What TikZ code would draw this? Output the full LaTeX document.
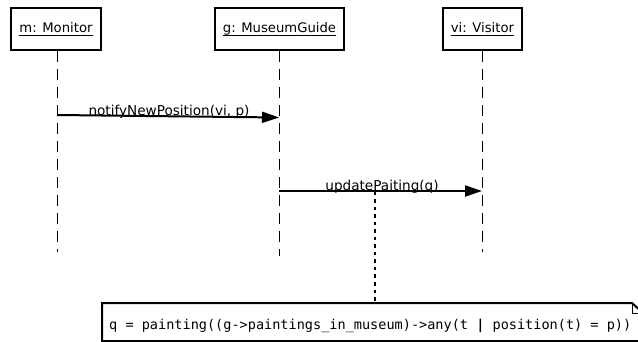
\documentclass[tikz,border=0pt]{standalone}
\usepackage{fontspec}
\setmainfont{DejaVu Sans}
\setmonofont{DejaVu Sans Mono}
\usetikzlibrary{arrows.meta}
\newcommand\objname[1]{\setbox0\hbox{#1}\rlap{\rule[-3.2pt]{\wd0}{0.9pt}}\box0}
\begin{document}
\begin{tikzpicture}[x=1pt,y=-1pt,
  objbox/.style={draw,line width=2pt,minimum height=42pt,inner xsep=8pt,
    font=\fontsize{13.2}{15}\selectfont},
  lifeline/.style={line width=1pt,dash pattern=on 11pt off 7pt},
  msg/.style={line width=2pt,-{Triangle[length=17pt,width=11pt]}},
  msglabel/.style={font=\fontsize{13.6}{15}\selectfont,inner sep=0pt,anchor=base},
  notebox/.style={line width=2pt},
  noteline/.style={line width=2.2pt,dash pattern=on 3.5pt off 4pt}]
\useasboundingbox (0,0) rectangle (638,342);
\clip (0,0) rectangle (638,342);

% objects
\node[objbox] (mon) at (56,29) {\objname{m: Monitor}};
\node[objbox] (gui) at (279.5,29) {\objname{g: MuseumGuide}};
\node[objbox] (vis) at (482.5,29) {\objname{vi: Visitor}};

% lifeline ends
\coordinate (monE) at (57,252);
\coordinate (guiE) at (279,256);
\coordinate (visE) at (482,252);
\draw[lifeline] (mon.south -| monE) -- (monE);
\draw[lifeline] (gui.south -| guiE) -- (guiE);
\draw[lifeline] (vis.south -| visE) -- (visE);

% messages
\coordinate (m1s) at (57,115);
\coordinate (m1e) at (279,117.5);
\coordinate (m2s) at (279,191);
\coordinate (m2e) at (482,191);
\draw[msg] (m1s) -- (m1e);
\node[msglabel] (l1) at (169,116) {notifyNewPosition(vi, p)};
\draw[msg] (m2s) -- (m2e);
\node[msglabel] (l2) at (382,190.5) {updatePaiting(q)};

% note
\path[draw,notebox] (102,303) -- (632,303) -- (643,313) -- (643,341) -- (102,341) -- cycle;
\draw[line width=1pt] (632,303) -- (632,313) -- (643,313);
\coordinate (notetop) at (375,303);
\node[inner sep=0pt,anchor=base west,font=\fontsize{13.55}{15}\ttfamily] (notetext) at (109,329)
  {q = painting((g->paintings\_in\_museum)->any(t \textbf{|} position(t) = p))};
\coordinate (anchorpt) at (375,192);
\draw[noteline] (anchorpt) -- (notetop);
\end{tikzpicture}
\end{document}
